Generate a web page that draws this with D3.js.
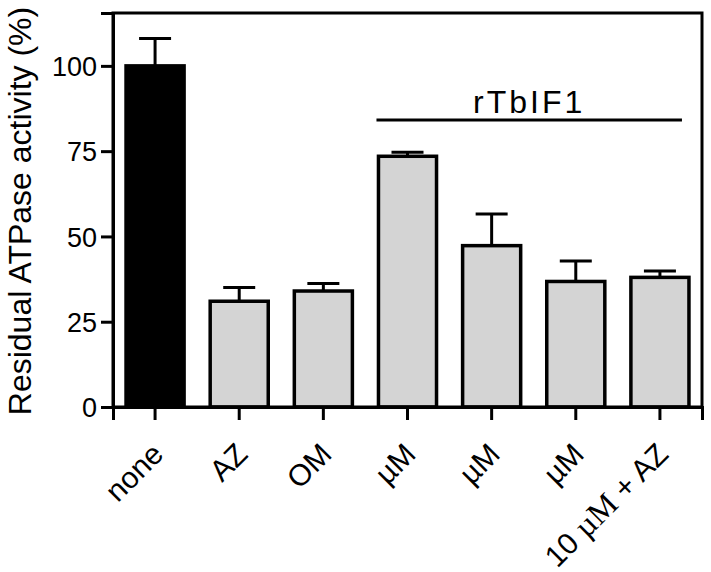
<!DOCTYPE html>
<html>
<head>
<meta charset="utf-8">
<script src="https://cdn.jsdelivr.net/npm/d3@7"></script>
<style>
  html, body { margin: 0; padding: 0; background: #fff; }
  svg { display: block; }
  text { font-family: "Liberation Sans", Arial, Helvetica, sans-serif; fill: #000; }
</style>
</head>
<body>
<svg id="chart" width="711" height="572"></svg>
<script>
const categories = ["none", "AZ", "OM", "µM1", "µM2", "µM3", "10 µM + AZ"];
const labels = ["none", "AZ", "OM", "µM", "µM", "µM", "10 µM + AZ"];
const values = [100, 31, 34, 73.5, 47.3, 36.8, 38];
const errors = [8, 4, 2.2, 1.2, 9.3, 6, 1.9];
const fills = ["#000000", "#d4d4d4", "#d4d4d4", "#d4d4d4", "#d4d4d4", "#d4d4d4", "#d4d4d4"];
const yTicks = [0, 25, 50, 75, 100];
const groupLabel = "rTbIF1";
const groupMembers = ["µM1", "µM2", "µM3", "10 µM + AZ"];
const yLabel = "Residual ATPase activity (%)";

(function () {
const svg = d3.select("#chart");
const mLeft = 113, mRight = 702, mTop = 13, mBottom = 407;

const x = d3.scaleBand().domain(categories).range([mLeft, mRight]).paddingInner(0.31).paddingOuter(0.155);
const y = d3.scaleLinear().domain([0, 115.5]).range([mBottom, mTop]);

// bars
svg.append("g").selectAll("rect").data(categories).join("rect")
  .attr("x", d => x(d))
  .attr("width", x.bandwidth())
  .attr("y", (d, i) => y(values[i]))
  .attr("height", (d, i) => y(0) - y(values[i]))
  .attr("fill", (d, i) => fills[i])
  .attr("stroke", "#000")
  .attr("stroke-width", 3.5);

// error bars (upper only)
const eg = svg.append("g").attr("stroke", "#000").attr("stroke-width", 3);
categories.forEach((c, i) => {
  const cx = x(c) + x.bandwidth() / 2;
  eg.append("line").attr("x1", cx).attr("x2", cx).attr("y1", y(values[i])).attr("y2", y(values[i] + errors[i]));
  eg.append("line").attr("x1", cx - 16).attr("x2", cx + 16).attr("y1", y(values[i] + errors[i])).attr("y2", y(values[i] + errors[i]));
});

// frame
svg.append("rect").attr("x", mLeft).attr("y", mTop).attr("width", mRight - mLeft).attr("height", mBottom - mTop)
  .attr("fill", "none").attr("stroke", "#000").attr("stroke-width", 3);

// y axis
const yAxis = svg.append("g").attr("transform", `translate(${mLeft},0)`)
  .call(d3.axisLeft(y).tickValues(yTicks).tickSize(12).tickPadding(4).tickFormat(d3.format("d")));
yAxis.select(".domain").attr("stroke-width", 3);
yAxis.selectAll(".tick line").attr("stroke-width", 3);
yAxis.selectAll(".tick text").attr("font-size", 27).attr("font-family", "Liberation Sans, Arial, sans-serif").attr("dy", "0.36em");

// x axis
const xAxis = svg.append("g").attr("transform", `translate(0,${mBottom})`)
  .call(d3.axisBottom(x).tickSize(13).tickFormat(() => ""));
xAxis.select(".domain").attr("stroke-width", 3);
xAxis.selectAll(".tick line").attr("stroke-width", 3);

// x labels rotated
const lg = svg.append("g");
categories.forEach((c, i) => {
  const cx = x(c) + x.bandwidth() / 2;
  const t = lg.append("text")
    .attr("transform", `translate(${cx + 10},${mBottom + 49}) rotate(-45)`)
    .attr("text-anchor", "end")
    .attr("font-size", 30);
  if (labels[i] === "10 µM + AZ") {
    t.append("tspan").text("10 ");
    t.append("tspan").attr("font-family", "Liberation Serif, Times New Roman, serif").attr("font-size", 32).text("µM");
    t.append("tspan").text(" + AZ");
  } else {
    t.text(labels[i]);
  }
});

// group annotation
const gx1 = x(groupMembers[0]) - 2;
const gx2 = x(groupMembers[groupMembers.length - 1]) + x.bandwidth() - 7;
svg.append("line").attr("x1", gx1).attr("x2", gx2).attr("y1", 120).attr("y2", 120)
  .attr("stroke", "#000").attr("stroke-width", 3);
svg.append("text").attr("x", (gx1 + gx2) / 2).attr("y", 113).attr("text-anchor", "middle")
  .attr("font-size", 32).attr("letter-spacing", 3).text(groupLabel);

// y label
svg.append("text").attr("transform", `translate(31,${(mTop + mBottom) / 2 + 1}) rotate(-90)`)
  .attr("text-anchor", "middle").attr("font-size", 32).text(yLabel);
})();
</script>
</body>
</html>
